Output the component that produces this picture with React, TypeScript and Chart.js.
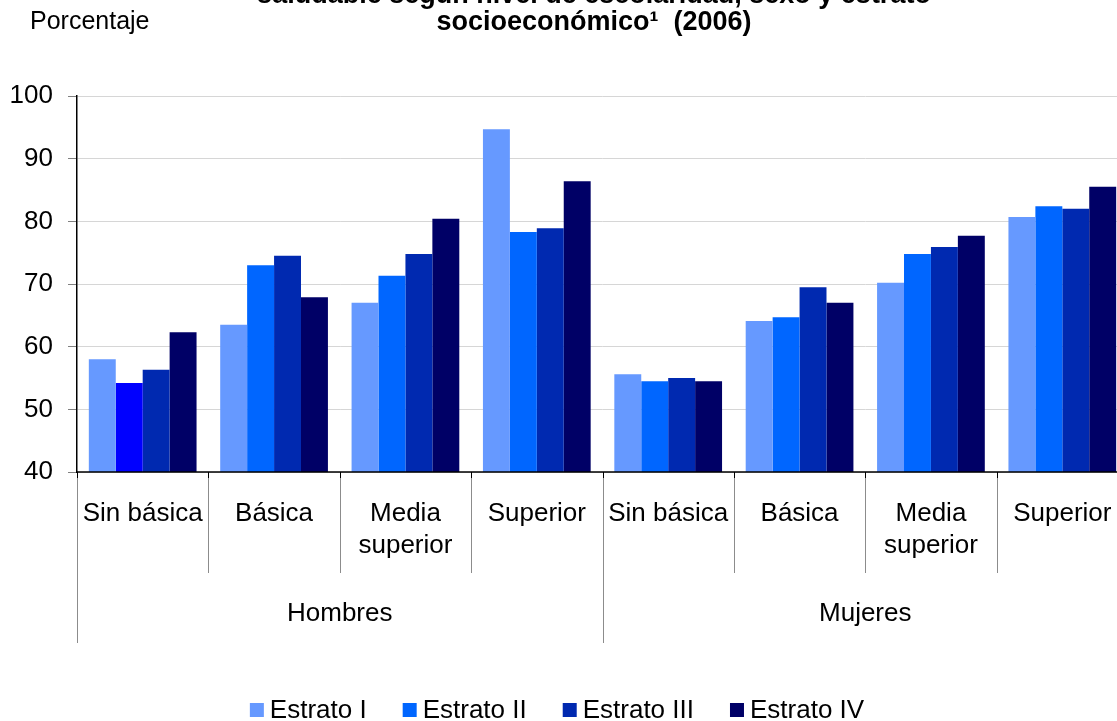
import React, { useEffect, useRef } from "react";
import { Chart, registerables } from "chart.js";

Chart.register(...registerables);

// Category axis: education level within each sex
const categories = [
  "Sin básica", "Básica", "Media superior", "Superior",
  "Sin básica", "Básica", "Media superior", "Superior",
];
const categoryLines = [
  ["Sin básica"], ["Básica"], ["Media", "superior"], ["Superior"],
  ["Sin básica"], ["Básica"], ["Media", "superior"], ["Superior"],
];
const groups = ["Hombres", "Mujeres"];
const groupSize = 4;

// Series: socioeconomic stratum (percent)
const seriesNames = ["Estrato I", "Estrato II", "Estrato III", "Estrato IV"];
const estratoI = [58.0, 63.5, 67.0, 94.7, 55.6, 64.1, 70.2, 80.7];
const estratoII = [54.2, 73.0, 71.3, 78.3, 54.5, 64.7, 74.8, 82.4];
const estratoIII = [56.3, 74.5, 74.8, 78.9, 55.0, 69.5, 75.9, 82.0];
const estratoIV = [62.3, 67.9, 80.4, 86.4, 54.5, 67.0, 77.7, 85.5];

const yMin = 40;
const yMax = 100;
const yStep = 10;

const titleLines = [
  "saludable según nivel de escolaridad, sexo y estrato",
  "socioeconómico¹  (2006)",
];
const unitLabel = "Porcentaje";

// Fill colours per series; the first Estrato II bar uses a pure blue
const seriesColors = ["#6699FF", "#0066FF", "#0029B0", "#000066"];
const estratoIIBarColors = ["#0000FF", "#0066FF", "#0066FF", "#0066FF", "#0066FF", "#0066FF", "#0066FF", "#0066FF"];

// The plot runs slightly past the right edge of the window, so the canvas is wider and clipped
const SURFACE_W = 1140;
const SURFACE_H = 721;
const PLOT_RIGHT = 1128;

const FONT = '"Liberation Sans", Arial, sans-serif';

const decorPlugin = {
  id: "decor",
  afterDraw(chart: any) {
    const { ctx, chartArea, scales } = chart;
    const xs = scales.x;
    const bottom = chartArea.bottom;
    const step = xs.getPixelForValue(1) - xs.getPixelForValue(0);
    const boundary = (k: number) => xs.getPixelForValue(k) - step / 2;

    ctx.save();
    ctx.fillStyle = "#000";
    ctx.textBaseline = "alphabetic";

    // Title
    ctx.font = `bold 27px ${FONT}`;
    ctx.textAlign = "center";
    titleLines.forEach((t, i) => ctx.fillText(t, 594, 3 + i * 27));

    // Unit label
    ctx.font = `25px ${FONT}`;
    ctx.textAlign = "left";
    ctx.fillText(unitLabel, 30, 29);

    // Category separators
    const n = categories.length;
    for (let k = 0; k <= n; k++) {
      const bx = Math.round(boundary(k)) + 0.5;
      const isGroupEdge = k % groupSize === 0;
      ctx.strokeStyle = "#000";
      ctx.lineWidth = 1;
      ctx.beginPath();
      ctx.moveTo(bx, bottom);
      ctx.lineTo(bx, bottom + 6);
      ctx.stroke();
      ctx.strokeStyle = "#8c8c8c";
      ctx.beginPath();
      ctx.moveTo(bx, bottom + 6);
      ctx.lineTo(bx, isGroupEdge ? 643 : 573);
      ctx.stroke();
    }

    // Horizontal axis line
    ctx.strokeStyle = "#000";
    ctx.lineWidth = 1.5;
    ctx.beginPath();
    ctx.moveTo(chartArea.left, bottom);
    ctx.lineTo(chartArea.right, bottom);
    ctx.stroke();

    // Category labels
    ctx.font = `26px ${FONT}`;
    ctx.textAlign = "center";
    categoryLines.forEach((lines, i) => {
      const cx = xs.getPixelForValue(i);
      lines.forEach((ln, j) => ctx.fillText(ln, cx, 521 + j * 32));
    });

    // Group labels
    groups.forEach((g, gi) => {
      const a = xs.getPixelForValue(gi * groupSize);
      const b = xs.getPixelForValue(gi * groupSize + groupSize - 1);
      ctx.fillText(g, (a + b) / 2, 621);
    });

    // Legend
    ctx.textAlign = "left";
    const box = 14;
    const textGap = 20;
    const itemGap = 36;
    const widths = seriesNames.map((s) => ctx.measureText(s).width);
    const total = widths.reduce((s, w) => s + textGap + w, 0) + itemGap * (seriesNames.length - 1);
    let lx = 557 - total / 2;
    seriesNames.forEach((s, i) => {
      ctx.fillStyle = seriesColors[i];
      ctx.fillRect(lx, 703, box, box);
      ctx.fillStyle = "#000";
      ctx.fillText(s, lx + textGap, 718);
      lx += textGap + widths[i] + itemGap;
    });

    ctx.restore();
  },
};

export default function App() {
  const canvasRef = useRef<HTMLCanvasElement | null>(null);

  useEffect(() => {
    const canvas = canvasRef.current;
    if (!canvas) return;
    const seriesData = [estratoI, estratoII, estratoIII, estratoIV];
    const chart = new Chart(canvas, {
      type: "bar",
      data: {
        labels: categories,
        datasets: seriesNames.map((name, i) => ({
          label: name,
          data: seriesData[i],
          backgroundColor: i === 1 ? estratoIIBarColors : seriesColors[i],
          borderWidth: 0,
          categoryPercentage: 0.82,
          barPercentage: 1.0,
        })),
      },
      options: {
        responsive: false,
        animation: false,
        devicePixelRatio: 1,
        layout: { padding: { top: 96, bottom: 249, left: 0, right: SURFACE_W - PLOT_RIGHT } },
        plugins: {
          legend: { display: false },
          title: { display: false },
          tooltip: { enabled: false },
        },
        scales: {
          x: { display: false },
          y: {
            min: yMin,
            max: yMax,
            afterFit: (scale: any) => {
              scale.width = 77;
            },
            ticks: {
              stepSize: yStep,
              color: "#000",
              padding: 15,
              font: { family: FONT, size: 26 },
            },
            grid: {
              color: "#d6d6d6",
              lineWidth: 1,
              tickLength: 9,
              tickColor: "#808080",
            },
            border: { display: true, color: "#000", width: 1.5 },
          },
        },
      },
      plugins: [decorPlugin],
    });
    return () => chart.destroy();
  }, []);

  return (
    <div
      style={{
        position: "fixed",
        left: 0,
        top: 0,
        width: 1117,
        height: 721,
        overflow: "hidden",
        background: "#fff",
      }}
    >
      <canvas
        ref={canvasRef}
        width={SURFACE_W}
        height={SURFACE_H}
        style={{ display: "block", width: `${SURFACE_W}px`, height: `${SURFACE_H}px` }}
      />
    </div>
  );
}
